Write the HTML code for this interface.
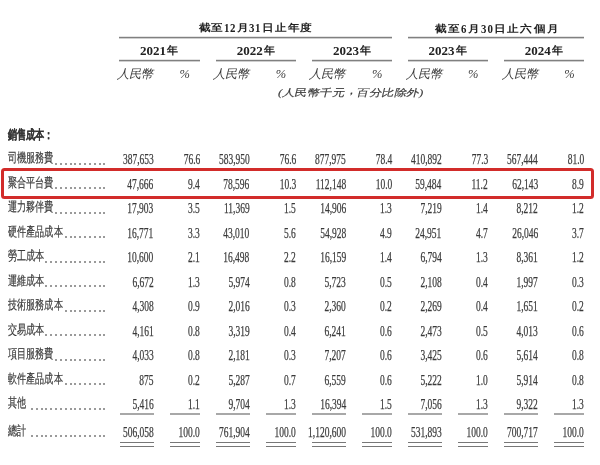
<!DOCTYPE html>
<html><head><meta charset="utf-8"><style>
html,body{margin:0;padding:0;background:#fff;}
body{width:600px;height:465px;position:relative;overflow:hidden;font-family:"Liberation Serif",serif;color:#3a3a3a;}
.n,.c,.h,.y,.i{position:absolute;white-space:nowrap;line-height:1;}
.n{font-size:15px;transform:scaleX(0.633);transform-origin:100% 0;-webkit-text-stroke:0.25px #3a3a3a;}
.c{font-size:12.8px;transform:scaleX(0.7);transform-origin:0 0;-webkit-text-stroke:0.2px #3a3a3a;}
.h{font-weight:bold;color:#222;}
.ln{position:absolute;height:1px;background:#808080;box-shadow:0 -1px 0 #e4e4e4,0 1px 0 #cfcfcf;}
.ul{position:absolute;height:1px;background:#777;}
.hd{display:inline-block;font-size:13.6px;transform:scaleX(0.8);transform-origin:0 100%;margin-right:-2.7px;position:relative;top:1px;}
.hd1{margin-right:-1.35px;}
i{position:absolute;width:1.9px;height:1.9px;border-radius:50%;background:#7a7a7a;}
.box{position:absolute;border:3px solid #d22c2a;border-radius:3.5px;box-sizing:border-box;filter:blur(0.3px);}
#w{position:absolute;left:0;top:0;width:600px;height:465px;filter:grayscale(1) blur(0.25px);}
</style></head><body><div id="w">

<div class="h" style="left:198.5px;top:22.2px;font-size:12px;letter-spacing:0.8px;transform:scaleY(0.86);transform-origin:0 0">截至<b class="hd">12</b>月<b class="hd">31</b>日止年度</div>
<div class="h" style="left:434.5px;top:22.7px;font-size:12px;letter-spacing:1.2px;transform:scaleY(0.86);transform-origin:0 0">截至<b class="hd hd1">6</b>月<b class="hd">30</b>日止六個月</div>
<div class="ln" style="left:118.5px;width:273px;top:37px"></div>
<div class="ln" style="left:407.5px;width:176.5px;top:37px"></div>
<div class="h" style="left:119.00px;width:80px;text-align:center;top:44.4px;font-size:13px">2021<span style="font-size:11px;margin-left:1px;position:relative;top:-1.5px">年</span></div>
<div class="ln" style="left:118.50px;width:81.00px;top:60px"></div>
<div class="i" style="left:116.00px;top:67.6px;font-size:12.3px;letter-spacing:0.0px;transform:skewX(-14deg);transform-origin:0 100%">人民幣</div>
<div class="i" style="left:179.50px;top:68px;font-size:12.5px;font-style:italic">%</div>
<div class="h" style="left:215.65px;width:80px;text-align:center;top:44.4px;font-size:13px">2022<span style="font-size:11px;margin-left:1px;position:relative;top:-1.5px">年</span></div>
<div class="ln" style="left:215.50px;width:80.30px;top:60px"></div>
<div class="i" style="left:212.20px;top:67.6px;font-size:12.3px;letter-spacing:0.0px;transform:skewX(-14deg);transform-origin:0 100%">人民幣</div>
<div class="i" style="left:275.70px;top:68px;font-size:12.5px;font-style:italic">%</div>
<div class="h" style="left:312.00px;width:80px;text-align:center;top:44.4px;font-size:13px">2023<span style="font-size:11px;margin-left:1px;position:relative;top:-1.5px">年</span></div>
<div class="ln" style="left:312.00px;width:80.00px;top:60px"></div>
<div class="i" style="left:308.40px;top:67.6px;font-size:12.3px;letter-spacing:0.0px;transform:skewX(-14deg);transform-origin:0 100%">人民幣</div>
<div class="i" style="left:371.90px;top:68px;font-size:12.5px;font-style:italic">%</div>
<div class="h" style="left:407.55px;width:80px;text-align:center;top:44.4px;font-size:13px">2023<span style="font-size:11px;margin-left:1px;position:relative;top:-1.5px">年</span></div>
<div class="ln" style="left:407.50px;width:80.10px;top:60px"></div>
<div class="i" style="left:404.60px;top:67.6px;font-size:12.3px;letter-spacing:0.0px;transform:skewX(-14deg);transform-origin:0 100%">人民幣</div>
<div class="i" style="left:468.10px;top:68px;font-size:12.5px;font-style:italic">%</div>
<div class="h" style="left:503.80px;width:80px;text-align:center;top:44.4px;font-size:13px">2024<span style="font-size:11px;margin-left:1px;position:relative;top:-1.5px">年</span></div>
<div class="ln" style="left:503.60px;width:80.40px;top:60px"></div>
<div class="i" style="left:500.80px;top:67.6px;font-size:12.3px;letter-spacing:0.0px;transform:skewX(-14deg);transform-origin:0 100%">人民幣</div>
<div class="i" style="left:564.30px;top:68px;font-size:12.5px;font-style:italic">%</div>
<div class="i" style="left:277.3px;top:86.0px;font-size:12.4px;letter-spacing:0.4px;transform:skewX(-14deg) scaleY(0.8);-webkit-text-stroke:0.2px #3a3a3a;transform-origin:0 100%">(人民幣千元<span style="position:relative;top:-2.8px">，</span>百分比除外)</div>
<div class="c h" style="left:8px;top:129px">銷售成本：</div>
<div class="c" style="left:7.5px;top:152.00px">司機服務費</div>
<i style="left:103.45px;top:162.85px"></i><i style="left:98.62px;top:162.85px"></i><i style="left:93.79px;top:162.85px"></i><i style="left:88.96px;top:162.85px"></i><i style="left:84.13px;top:162.85px"></i><i style="left:79.30px;top:162.85px"></i><i style="left:74.47px;top:162.85px"></i><i style="left:69.64px;top:162.85px"></i><i style="left:64.81px;top:162.85px"></i><i style="left:59.98px;top:162.85px"></i><i style="left:55.15px;top:162.85px"></i>
<div class="n" style="right:446.40px;top:152.00px">387,653</div>
<div class="n" style="right:399.80px;top:152.00px">76.6</div>
<div class="n" style="right:350.40px;top:152.00px">583,950</div>
<div class="n" style="right:304.20px;top:152.00px">76.6</div>
<div class="n" style="right:253.80px;top:152.00px">877,975</div>
<div class="n" style="right:207.80px;top:152.00px">78.4</div>
<div class="n" style="right:158.50px;top:152.00px">410,892</div>
<div class="n" style="right:112.20px;top:152.00px">77.3</div>
<div class="n" style="right:62.20px;top:152.00px">567,444</div>
<div class="n" style="right:16.20px;top:152.00px">81.0</div>
<div class="c" style="left:7.5px;top:176.51px">聚合平台費</div>
<i style="left:103.45px;top:187.36px"></i><i style="left:98.62px;top:187.36px"></i><i style="left:93.79px;top:187.36px"></i><i style="left:88.96px;top:187.36px"></i><i style="left:84.13px;top:187.36px"></i><i style="left:79.30px;top:187.36px"></i><i style="left:74.47px;top:187.36px"></i><i style="left:69.64px;top:187.36px"></i><i style="left:64.81px;top:187.36px"></i><i style="left:59.98px;top:187.36px"></i><i style="left:55.15px;top:187.36px"></i>
<div class="n" style="right:446.40px;top:176.51px">47,666</div>
<div class="n" style="right:399.80px;top:176.51px">9.4</div>
<div class="n" style="right:350.40px;top:176.51px">78,596</div>
<div class="n" style="right:304.20px;top:176.51px">10.3</div>
<div class="n" style="right:253.80px;top:176.51px">112,148</div>
<div class="n" style="right:207.80px;top:176.51px">10.0</div>
<div class="n" style="right:158.50px;top:176.51px">59,484</div>
<div class="n" style="right:112.20px;top:176.51px">11.2</div>
<div class="n" style="right:62.20px;top:176.51px">62,143</div>
<div class="n" style="right:16.20px;top:176.51px">8.9</div>
<div class="c" style="left:7.5px;top:201.02px">運力夥伴費</div>
<i style="left:103.45px;top:211.87px"></i><i style="left:98.62px;top:211.87px"></i><i style="left:93.79px;top:211.87px"></i><i style="left:88.96px;top:211.87px"></i><i style="left:84.13px;top:211.87px"></i><i style="left:79.30px;top:211.87px"></i><i style="left:74.47px;top:211.87px"></i><i style="left:69.64px;top:211.87px"></i><i style="left:64.81px;top:211.87px"></i><i style="left:59.98px;top:211.87px"></i><i style="left:55.15px;top:211.87px"></i>
<div class="n" style="right:446.40px;top:201.02px">17,903</div>
<div class="n" style="right:399.80px;top:201.02px">3.5</div>
<div class="n" style="right:350.40px;top:201.02px">11,369</div>
<div class="n" style="right:304.20px;top:201.02px">1.5</div>
<div class="n" style="right:253.80px;top:201.02px">14,906</div>
<div class="n" style="right:207.80px;top:201.02px">1.3</div>
<div class="n" style="right:158.50px;top:201.02px">7,219</div>
<div class="n" style="right:112.20px;top:201.02px">1.4</div>
<div class="n" style="right:62.20px;top:201.02px">8,212</div>
<div class="n" style="right:16.20px;top:201.02px">1.2</div>
<div class="c" style="left:7.5px;top:225.53px">硬件產品成本</div>
<i style="left:103.45px;top:236.38px"></i><i style="left:98.62px;top:236.38px"></i><i style="left:93.79px;top:236.38px"></i><i style="left:88.96px;top:236.38px"></i><i style="left:84.13px;top:236.38px"></i><i style="left:79.30px;top:236.38px"></i><i style="left:74.47px;top:236.38px"></i><i style="left:69.64px;top:236.38px"></i><i style="left:64.81px;top:236.38px"></i>
<div class="n" style="right:446.40px;top:225.53px">16,771</div>
<div class="n" style="right:399.80px;top:225.53px">3.3</div>
<div class="n" style="right:350.40px;top:225.53px">43,010</div>
<div class="n" style="right:304.20px;top:225.53px">5.6</div>
<div class="n" style="right:253.80px;top:225.53px">54,928</div>
<div class="n" style="right:207.80px;top:225.53px">4.9</div>
<div class="n" style="right:158.50px;top:225.53px">24,951</div>
<div class="n" style="right:112.20px;top:225.53px">4.7</div>
<div class="n" style="right:62.20px;top:225.53px">26,046</div>
<div class="n" style="right:16.20px;top:225.53px">3.7</div>
<div class="c" style="left:7.5px;top:250.04px">勞工成本</div>
<i style="left:103.45px;top:260.89px"></i><i style="left:98.62px;top:260.89px"></i><i style="left:93.79px;top:260.89px"></i><i style="left:88.96px;top:260.89px"></i><i style="left:84.13px;top:260.89px"></i><i style="left:79.30px;top:260.89px"></i><i style="left:74.47px;top:260.89px"></i><i style="left:69.64px;top:260.89px"></i><i style="left:64.81px;top:260.89px"></i><i style="left:59.98px;top:260.89px"></i><i style="left:55.15px;top:260.89px"></i><i style="left:50.32px;top:260.89px"></i><i style="left:45.49px;top:260.89px"></i>
<div class="n" style="right:446.40px;top:250.04px">10,600</div>
<div class="n" style="right:399.80px;top:250.04px">2.1</div>
<div class="n" style="right:350.40px;top:250.04px">16,498</div>
<div class="n" style="right:304.20px;top:250.04px">2.2</div>
<div class="n" style="right:253.80px;top:250.04px">16,159</div>
<div class="n" style="right:207.80px;top:250.04px">1.4</div>
<div class="n" style="right:158.50px;top:250.04px">6,794</div>
<div class="n" style="right:112.20px;top:250.04px">1.3</div>
<div class="n" style="right:62.20px;top:250.04px">8,361</div>
<div class="n" style="right:16.20px;top:250.04px">1.2</div>
<div class="c" style="left:7.5px;top:274.55px">運維成本</div>
<i style="left:103.45px;top:285.40px"></i><i style="left:98.62px;top:285.40px"></i><i style="left:93.79px;top:285.40px"></i><i style="left:88.96px;top:285.40px"></i><i style="left:84.13px;top:285.40px"></i><i style="left:79.30px;top:285.40px"></i><i style="left:74.47px;top:285.40px"></i><i style="left:69.64px;top:285.40px"></i><i style="left:64.81px;top:285.40px"></i><i style="left:59.98px;top:285.40px"></i><i style="left:55.15px;top:285.40px"></i><i style="left:50.32px;top:285.40px"></i><i style="left:45.49px;top:285.40px"></i>
<div class="n" style="right:446.40px;top:274.55px">6,672</div>
<div class="n" style="right:399.80px;top:274.55px">1.3</div>
<div class="n" style="right:350.40px;top:274.55px">5,974</div>
<div class="n" style="right:304.20px;top:274.55px">0.8</div>
<div class="n" style="right:253.80px;top:274.55px">5,723</div>
<div class="n" style="right:207.80px;top:274.55px">0.5</div>
<div class="n" style="right:158.50px;top:274.55px">2,108</div>
<div class="n" style="right:112.20px;top:274.55px">0.4</div>
<div class="n" style="right:62.20px;top:274.55px">1,997</div>
<div class="n" style="right:16.20px;top:274.55px">0.3</div>
<div class="c" style="left:7.5px;top:299.06px">技術服務成本</div>
<i style="left:103.45px;top:309.91px"></i><i style="left:98.62px;top:309.91px"></i><i style="left:93.79px;top:309.91px"></i><i style="left:88.96px;top:309.91px"></i><i style="left:84.13px;top:309.91px"></i><i style="left:79.30px;top:309.91px"></i><i style="left:74.47px;top:309.91px"></i><i style="left:69.64px;top:309.91px"></i><i style="left:64.81px;top:309.91px"></i>
<div class="n" style="right:446.40px;top:299.06px">4,308</div>
<div class="n" style="right:399.80px;top:299.06px">0.9</div>
<div class="n" style="right:350.40px;top:299.06px">2,016</div>
<div class="n" style="right:304.20px;top:299.06px">0.3</div>
<div class="n" style="right:253.80px;top:299.06px">2,360</div>
<div class="n" style="right:207.80px;top:299.06px">0.2</div>
<div class="n" style="right:158.50px;top:299.06px">2,269</div>
<div class="n" style="right:112.20px;top:299.06px">0.4</div>
<div class="n" style="right:62.20px;top:299.06px">1,651</div>
<div class="n" style="right:16.20px;top:299.06px">0.2</div>
<div class="c" style="left:7.5px;top:323.57px">交易成本</div>
<i style="left:103.45px;top:334.42px"></i><i style="left:98.62px;top:334.42px"></i><i style="left:93.79px;top:334.42px"></i><i style="left:88.96px;top:334.42px"></i><i style="left:84.13px;top:334.42px"></i><i style="left:79.30px;top:334.42px"></i><i style="left:74.47px;top:334.42px"></i><i style="left:69.64px;top:334.42px"></i><i style="left:64.81px;top:334.42px"></i><i style="left:59.98px;top:334.42px"></i><i style="left:55.15px;top:334.42px"></i><i style="left:50.32px;top:334.42px"></i><i style="left:45.49px;top:334.42px"></i>
<div class="n" style="right:446.40px;top:323.57px">4,161</div>
<div class="n" style="right:399.80px;top:323.57px">0.8</div>
<div class="n" style="right:350.40px;top:323.57px">3,319</div>
<div class="n" style="right:304.20px;top:323.57px">0.4</div>
<div class="n" style="right:253.80px;top:323.57px">6,241</div>
<div class="n" style="right:207.80px;top:323.57px">0.6</div>
<div class="n" style="right:158.50px;top:323.57px">2,473</div>
<div class="n" style="right:112.20px;top:323.57px">0.5</div>
<div class="n" style="right:62.20px;top:323.57px">4,013</div>
<div class="n" style="right:16.20px;top:323.57px">0.6</div>
<div class="c" style="left:7.5px;top:348.08px">項目服務費</div>
<i style="left:103.45px;top:358.93px"></i><i style="left:98.62px;top:358.93px"></i><i style="left:93.79px;top:358.93px"></i><i style="left:88.96px;top:358.93px"></i><i style="left:84.13px;top:358.93px"></i><i style="left:79.30px;top:358.93px"></i><i style="left:74.47px;top:358.93px"></i><i style="left:69.64px;top:358.93px"></i><i style="left:64.81px;top:358.93px"></i><i style="left:59.98px;top:358.93px"></i><i style="left:55.15px;top:358.93px"></i>
<div class="n" style="right:446.40px;top:348.08px">4,033</div>
<div class="n" style="right:399.80px;top:348.08px">0.8</div>
<div class="n" style="right:350.40px;top:348.08px">2,181</div>
<div class="n" style="right:304.20px;top:348.08px">0.3</div>
<div class="n" style="right:253.80px;top:348.08px">7,207</div>
<div class="n" style="right:207.80px;top:348.08px">0.6</div>
<div class="n" style="right:158.50px;top:348.08px">3,425</div>
<div class="n" style="right:112.20px;top:348.08px">0.6</div>
<div class="n" style="right:62.20px;top:348.08px">5,614</div>
<div class="n" style="right:16.20px;top:348.08px">0.8</div>
<div class="c" style="left:7.5px;top:372.59px">軟件產品成本</div>
<i style="left:103.45px;top:383.44px"></i><i style="left:98.62px;top:383.44px"></i><i style="left:93.79px;top:383.44px"></i><i style="left:88.96px;top:383.44px"></i><i style="left:84.13px;top:383.44px"></i><i style="left:79.30px;top:383.44px"></i><i style="left:74.47px;top:383.44px"></i><i style="left:69.64px;top:383.44px"></i><i style="left:64.81px;top:383.44px"></i>
<div class="n" style="right:446.40px;top:372.59px">875</div>
<div class="n" style="right:399.80px;top:372.59px">0.2</div>
<div class="n" style="right:350.40px;top:372.59px">5,287</div>
<div class="n" style="right:304.20px;top:372.59px">0.7</div>
<div class="n" style="right:253.80px;top:372.59px">6,559</div>
<div class="n" style="right:207.80px;top:372.59px">0.6</div>
<div class="n" style="right:158.50px;top:372.59px">5,222</div>
<div class="n" style="right:112.20px;top:372.59px">1.0</div>
<div class="n" style="right:62.20px;top:372.59px">5,914</div>
<div class="n" style="right:16.20px;top:372.59px">0.8</div>
<div class="c" style="left:7.5px;top:397.10px">其他</div>
<i style="left:103.45px;top:407.95px"></i><i style="left:98.62px;top:407.95px"></i><i style="left:93.79px;top:407.95px"></i><i style="left:88.96px;top:407.95px"></i><i style="left:84.13px;top:407.95px"></i><i style="left:79.30px;top:407.95px"></i><i style="left:74.47px;top:407.95px"></i><i style="left:69.64px;top:407.95px"></i><i style="left:64.81px;top:407.95px"></i><i style="left:59.98px;top:407.95px"></i><i style="left:55.15px;top:407.95px"></i><i style="left:50.32px;top:407.95px"></i><i style="left:45.49px;top:407.95px"></i><i style="left:40.66px;top:407.95px"></i><i style="left:35.83px;top:407.95px"></i><i style="left:31.00px;top:407.95px"></i>
<div class="n" style="right:446.40px;top:397.10px">5,416</div>
<div class="n" style="right:399.80px;top:397.10px">1.1</div>
<div class="n" style="right:350.40px;top:397.10px">9,704</div>
<div class="n" style="right:304.20px;top:397.10px">1.3</div>
<div class="n" style="right:253.80px;top:397.10px">16,394</div>
<div class="n" style="right:207.80px;top:397.10px">1.5</div>
<div class="n" style="right:158.50px;top:397.10px">7,056</div>
<div class="n" style="right:112.20px;top:397.10px">1.3</div>
<div class="n" style="right:62.20px;top:397.10px">9,322</div>
<div class="n" style="right:16.20px;top:397.10px">1.3</div>
<div class="ul" style="left:119.60px;width:34.00px;top:413px;height:2px;background:#a8a8a8"></div>
<div class="ul" style="left:170.20px;width:30.00px;top:413px;height:2px;background:#a8a8a8"></div>
<div class="ul" style="left:215.60px;width:34.00px;top:413px;height:2px;background:#a8a8a8"></div>
<div class="ul" style="left:265.80px;width:30.00px;top:413px;height:2px;background:#a8a8a8"></div>
<div class="ul" style="left:312.20px;width:34.00px;top:413px;height:2px;background:#a8a8a8"></div>
<div class="ul" style="left:362.20px;width:30.00px;top:413px;height:2px;background:#a8a8a8"></div>
<div class="ul" style="left:407.50px;width:34.00px;top:413px;height:2px;background:#a8a8a8"></div>
<div class="ul" style="left:457.80px;width:30.00px;top:413px;height:2px;background:#a8a8a8"></div>
<div class="ul" style="left:503.80px;width:34.00px;top:413px;height:2px;background:#a8a8a8"></div>
<div class="ul" style="left:553.80px;width:30.00px;top:413px;height:2px;background:#a8a8a8"></div>
<div class="c" style="left:7.5px;top:424.70px">總計</div>
<i style="left:103.45px;top:434.75px"></i><i style="left:98.62px;top:434.75px"></i><i style="left:93.79px;top:434.75px"></i><i style="left:88.96px;top:434.75px"></i><i style="left:84.13px;top:434.75px"></i><i style="left:79.30px;top:434.75px"></i><i style="left:74.47px;top:434.75px"></i><i style="left:69.64px;top:434.75px"></i><i style="left:64.81px;top:434.75px"></i><i style="left:59.98px;top:434.75px"></i><i style="left:55.15px;top:434.75px"></i><i style="left:50.32px;top:434.75px"></i><i style="left:45.49px;top:434.75px"></i><i style="left:40.66px;top:434.75px"></i><i style="left:35.83px;top:434.75px"></i><i style="left:31.00px;top:434.75px"></i>
<div class="n" style="right:446.40px;top:424.70px">506,058</div>
<div class="n" style="right:399.80px;top:424.70px">100.0</div>
<div class="n" style="right:350.40px;top:424.70px">761,904</div>
<div class="n" style="right:304.20px;top:424.70px">100.0</div>
<div class="n" style="right:253.80px;top:424.70px">1,120,600</div>
<div class="n" style="right:207.80px;top:424.70px">100.0</div>
<div class="n" style="right:158.50px;top:424.70px">531,893</div>
<div class="n" style="right:112.20px;top:424.70px">100.0</div>
<div class="n" style="right:62.20px;top:424.70px">700,717</div>
<div class="n" style="right:16.20px;top:424.70px">100.0</div>
<div class="ul" style="left:119.60px;width:34.00px;top:442px"></div>
<div class="ul" style="left:170.20px;width:30.00px;top:442px"></div>
<div class="ul" style="left:215.60px;width:34.00px;top:442px"></div>
<div class="ul" style="left:265.80px;width:30.00px;top:442px"></div>
<div class="ul" style="left:312.20px;width:34.00px;top:442px"></div>
<div class="ul" style="left:362.20px;width:30.00px;top:442px"></div>
<div class="ul" style="left:407.50px;width:34.00px;top:442px"></div>
<div class="ul" style="left:457.80px;width:30.00px;top:442px"></div>
<div class="ul" style="left:503.80px;width:34.00px;top:442px"></div>
<div class="ul" style="left:553.80px;width:30.00px;top:442px"></div>
<div class="ul" style="left:119.60px;width:34.00px;top:446px"></div>
<div class="ul" style="left:170.20px;width:30.00px;top:446px"></div>
<div class="ul" style="left:215.60px;width:34.00px;top:446px"></div>
<div class="ul" style="left:265.80px;width:30.00px;top:446px"></div>
<div class="ul" style="left:312.20px;width:34.00px;top:446px"></div>
<div class="ul" style="left:362.20px;width:30.00px;top:446px"></div>
<div class="ul" style="left:407.50px;width:34.00px;top:446px"></div>
<div class="ul" style="left:457.80px;width:30.00px;top:446px"></div>
<div class="ul" style="left:503.80px;width:34.00px;top:446px"></div>
<div class="ul" style="left:553.80px;width:30.00px;top:446px"></div>
</div><div class="box" style="left:1px;top:168px;width:593px;height:31px"></div>
</body></html>
